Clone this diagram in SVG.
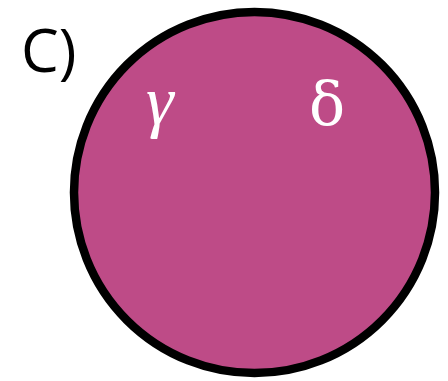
<svg xmlns="http://www.w3.org/2000/svg" width="448" height="381" viewBox="0 0 448 381">
<style>
.lbl{font-family:"DejaVu Serif",serif;fill:#ffffff;font-size:60px}
.g{font-family:"Liberation Serif","DejaVu Serif",serif;font-style:italic;font-size:70px}
</style>
<rect width="448" height="381" fill="#ffffff"/>
<text x="21" y="72" font-family="Open Sans, Liberation Sans, sans-serif" font-size="60" fill="#000000">C)</text>
<g id="circle">
<circle cx="254.5" cy="192.5" r="180.5" fill="#BE4B87" stroke="#000000" stroke-width="8.5"/>
<text class="lbl g" x="146" y="124">γ</text>
<text class="lbl" x="309" y="125">δ</text>
</g>
</svg>
